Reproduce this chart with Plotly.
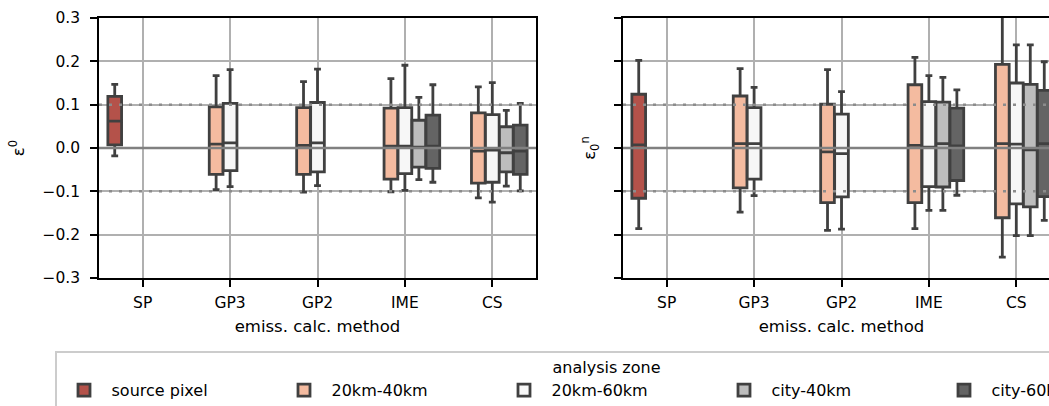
import plotly.graph_objects as go

# ---------------- data ----------------
categories = ["SP", "GP3", "GP2", "IME", "CS"]
zones = ["source pixel", "20km-40km", "20km-60km", "city-40km", "city-60km"]
zone_colors = ["#b4524a", "#f4bba0", "#f7f7f7", "#bdbdbd", "#646464"]
zone_cats = [
    ["SP"],
    ["GP3", "GP2", "IME", "CS"],
    ["GP3", "GP2", "IME", "CS"],
    ["IME", "CS"],
    ["IME", "CS"],
]

# left panel (epsilon^0)
left_lower = [[-0.018], [-0.096, -0.102, -0.101, -0.115], [-0.089, -0.087, -0.098, -0.125],
              [-0.073, -0.088], [-0.079, -0.099]]
left_q1 = [[0.007], [-0.061, -0.061, -0.072, -0.081], [-0.052, -0.055, -0.059, -0.079],
           [-0.044, -0.055], [-0.047, -0.061]]
left_median = [[0.062], [0.009, 0.006, 0.004, -0.007], [0.012, 0.012, 0.004, -0.005],
               [0.002, -0.011], [0.004, -0.007]]
left_q3 = [[0.119], [0.095, 0.093, 0.092, 0.081], [0.103, 0.105, 0.093, 0.077],
           [0.064, 0.049], [0.076, 0.053]]
left_upper = [[0.147], [0.167, 0.153, 0.160, 0.141], [0.181, 0.182, 0.191, 0.151],
              [0.117, 0.087], [0.146, 0.103]]

# right panel (epsilon_0^n)
right_lower = [[-0.186], [-0.148, -0.190, -0.186, -0.252], [-0.110, -0.187, -0.144, -0.202],
               [-0.144, -0.202], [-0.109, -0.167]]
right_q1 = [[-0.116], [-0.092, -0.126, -0.126, -0.161], [-0.072, -0.113, -0.089, -0.129],
            [-0.090, -0.136], [-0.075, -0.112]]
right_median = [[0.007], [0.010, -0.009, 0.006, 0.010], [0.010, -0.013, 0.002, 0.009],
                [0.010, -0.004], [0.005, 0.010]]
right_q3 = [[0.124], [0.120, 0.101, 0.146, 0.193], [0.093, 0.078, 0.107, 0.150],
            [0.106, 0.147], [0.092, 0.133]]
right_upper = [[0.202], [0.183, 0.181, 0.209, 0.330], [0.140, 0.130, 0.167, 0.238],
               [0.163, 0.238], [0.134, 0.199]]

y_ticks = [-0.3, -0.2, -0.1, 0.0, 0.1, 0.2, 0.3]
ref_solid = [0.0]
ref_dotted = [-0.1, 0.1]

# ---------------- figure ----------------
# The original figure is wider/taller than the 1049x406 view and gets cropped.
W, H = 1200, 440
ML, MR, MT = 99, 10, 18
PLOT_BOTTOM = 278
MB = H - PLOT_BOTTOM
PW = W - ML - MR
PH = H - MT - MB
EDGE = "#404040"
FONT = "DejaVu Sans"

fig = go.Figure()

panels = [
    ("x", "y", "left", left_lower, left_q1, left_median, left_q3, left_upper),
    ("x2", "y2", "right", right_lower, right_q1, right_median, right_q3, right_upper),
]
for p, (xa, ya, grp, lo, q1, med, q3, hi) in enumerate(panels):
    for i, z in enumerate(zones):
        fig.add_trace(go.Box(
            x=zone_cats[i], q1=q1[i], median=med[i], q3=q3[i],
            lowerfence=lo[i], upperfence=hi[i],
            name=z, legendgroup=z, showlegend=(p == 0),
            alignmentgroup=grp, offsetgroup=z,
            fillcolor=zone_colors[i], line=dict(color=EDGE, width=2.8),
            whiskerwidth=0.5, boxpoints=False, hoverinfo="skip",
            xaxis=xa, yaxis=ya,
        ))

axis_common = dict(
    showline=True, linecolor="black", linewidth=1.5, mirror=True,
    ticks="outside", ticklen=7, tickwidth=1.5, tickcolor="black",
    showgrid=True, gridcolor="#b0b0b0", gridwidth=1.5, zeroline=False,
    tickfont=dict(size=15.5, color="black", family=FONT),
)
xcommon = dict(axis_common, type="category", categoryorder="array",
               categoryarray=categories, range=[-0.5, 4.5], ticklabelstandoff=3,
               title=dict(text="emiss. calc. method", standoff=9,
                          font=dict(size=16.5, color="black", family=FONT)))
ycommon = dict(axis_common, range=[-0.3, 0.3], tickvals=y_ticks, tickformat=".1f",
               ticklabelstandoff=7)

fig.update_layout(
    width=W, height=H,
    margin=dict(l=ML, r=MR, t=MT, b=MB, pad=0),
    paper_bgcolor="white", plot_bgcolor="white",
    font=dict(family=FONT, color="black", size=16),
    boxmode="group", boxgap=0.2, boxgroupgap=0.02,
    xaxis=dict(xcommon, domain=[0, 437 / PW], anchor="y"),
    xaxis2=dict(xcommon, domain=[524 / PW, 961 / PW], anchor="y2"),
    yaxis=dict(ycommon, anchor="x",
               title=dict(text="ε<sup>0</sup>", standoff=14,
                          font=dict(size=16.5, color="black", family=FONT))),
    yaxis2=dict(ycommon, anchor="x2", matches="y", showticklabels=False,
                title=dict(text="ε<sub>0</sub><sup>n</sup>", standoff=14,
                           font=dict(size=16.5, color="black", family=FONT))),
    legend=dict(
        orientation="h", x=(55 - ML) / PW, xanchor="left",
        y=-(351 - PLOT_BOTTOM) / PH, yanchor="top",
        title=dict(text="analysis zone", side="top center",
                   font=dict(size=16, color="black", family=FONT)),
        font=dict(size=16, color="black", family=FONT),
        bordercolor="#cccccc", borderwidth=1.5, bgcolor="white",
        itemwidth=45, entrywidth=160, entrywidthmode="pixels", traceorder="normal",
    ),
    showlegend=True,
)

for xr, yr in [("x domain", "y"), ("x2 domain", "y2")]:
    for yv in ref_solid:
        fig.add_shape(type="line", xref=xr, yref=yr, x0=0, x1=1, y0=yv, y1=yv,
                      line=dict(color="#808080", width=2.5), layer="above")
    for yv in ref_dotted:
        fig.add_shape(type="line", xref=xr, yref=yr, x0=0, x1=1, y0=yv, y1=yv,
                      line=dict(color="#8c8c8c", width=2.5, dash="3px,7px"), layer="above")

fig.write_html(
    "out.html",
    post_script="document.documentElement.style.overflow='hidden';document.body.style.overflow='hidden';",
)
